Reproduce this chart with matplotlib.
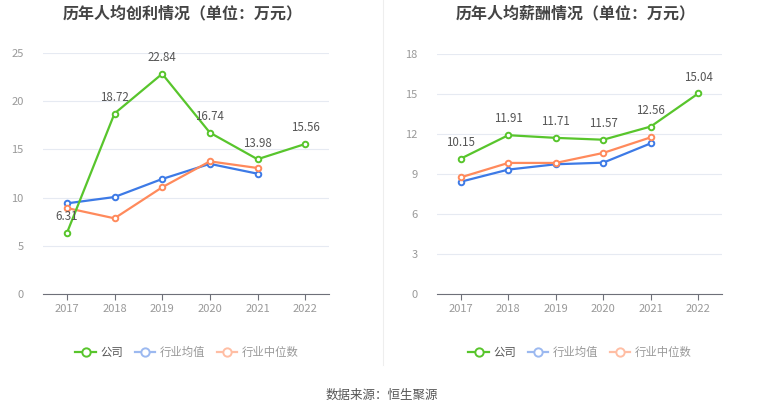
import matplotlib
matplotlib.use("Agg")
import matplotlib.pyplot as plt
from matplotlib.lines import Line2D

plt.rcParams['font.family'] = ['Noto Sans CJK SC', 'DejaVu Sans']

years = ["2017", "2018", "2019", "2020", "2021", "2022"]

# 人均创利
profit_company = [6.31, 18.72, 22.84, 16.74, 13.98, 15.56]
profit_avg = [9.40, 10.06, 11.93, 13.50, 12.48]
profit_median = [8.92, 7.85, 11.07, 13.76, 13.07]

# 人均薪酬
salary_company = [10.15, 11.91, 11.71, 11.57, 12.56, 15.04]
salary_avg = [8.42, 9.33, 9.73, 9.85, 11.30]
salary_median = [8.75, 9.83, 9.83, 10.58, 11.75]

GREEN = "#58c52c"
BLUE = "#3d7ae6"
ORANGE = "#ff8a5c"

W, H = 765, 413
fig = plt.figure(figsize=(W / 100, H / 100), dpi=100)


def px_axes(x0, x1, ytop, ybot):
    return fig.add_axes([x0 / W, (H - ybot) / H, (x1 - x0) / W, (ybot - ytop) / H])


def draw(ax, comp, avg, med, ymax, step, title, title_x):
    xs = list(range(len(years)))
    ax.plot(xs[:len(avg)], avg, color=BLUE, lw=1.6, marker="o", ms=4,
            mfc="white", mec=BLUE, mew=1.4, zorder=3)
    ax.plot(xs[:len(med)], med, color=ORANGE, lw=1.6, marker="o", ms=4,
            mfc="white", mec=ORANGE, mew=1.4, zorder=3)
    ax.plot(xs, comp, color=GREEN, lw=1.6, marker="o", ms=4,
            mfc="white", mec=GREEN, mew=1.4, zorder=4)
    for x, v in zip(xs, comp):
        ax.annotate("%.2f" % v, (x, v), xytext=(0, 7), textcoords="offset points",
                    ha="center", va="bottom", fontsize=8.3, color="#555555", zorder=5)
    ax.set_xlim(-0.5, len(years) - 0.5)
    ax.set_ylim(0, ymax)
    ax.set_yticks(range(0, ymax + 1, step))
    ax.set_xticks(xs)
    ax.set_xticklabels(years)
    ax.grid(axis="y", color="#e6eaf2", lw=0.8)
    ax.set_axisbelow(True)
    for s in ["top", "right", "left"]:
        ax.spines[s].set_visible(False)
    ax.spines["bottom"].set_color("#6e7079")
    ax.tick_params(axis="y", length=0, colors="#999999", labelsize=8, pad=14)
    ax.tick_params(axis="x", length=4, color="#6e7079", colors="#999999",
                   labelsize=8, pad=3)
    fig.text(title_x / W, 1 - 13 / H, title, ha="center", va="center",
             fontsize=11.5, fontweight="bold", color="#444444")


ax1 = px_axes(43, 329, 53, 294)
draw(ax1, profit_company, profit_avg, profit_median, 25, 5,
     "历年人均创利情况（单位：万元）", 183)
ax2 = px_axes(437, 722, 54, 294)
draw(ax2, salary_company, salary_avg, salary_median, 18, 3,
     "历年人均薪酬情况（单位：万元）", 576)

# legends
def legend_for(cx):
    handles = [
        Line2D([], [], color=GREEN, lw=1.6, marker="o", ms=6, mfc="white", mec=GREEN, mew=1.4),
        Line2D([], [], color="#9cb9f0", lw=1.6, marker="o", ms=6, mfc="white", mec="#9cb9f0", mew=1.4),
        Line2D([], [], color="#ffbea4", lw=1.6, marker="o", ms=6, mfc="white", mec="#ffbea4", mew=1.4),
    ]
    leg = fig.legend(handles, ["公司", "行业均值", "行业中位数"], loc="center",
                     bbox_to_anchor=(cx / W, 1 - 352 / H), ncol=3, frameon=False,
                     fontsize=8.2, handlelength=1.8, handletextpad=0.4,
                     columnspacing=1.0)
    for t, c in zip(leg.get_texts(), ["#555555", "#999999", "#999999"]):
        t.set_color(c)


legend_for(187)
legend_for(580)

# divider
fig.add_artist(Line2D([383 / W, 383 / W], [1 - 0 / H, 1 - 365 / H],
                      color="#eeeeee", lw=0.8))

fig.text(382 / W, 1 - 395 / H, "数据来源：恒生聚源", ha="center", va="center",
         fontsize=9, color="#555555")

fig.savefig("out.png", dpi=100, facecolor="white")
